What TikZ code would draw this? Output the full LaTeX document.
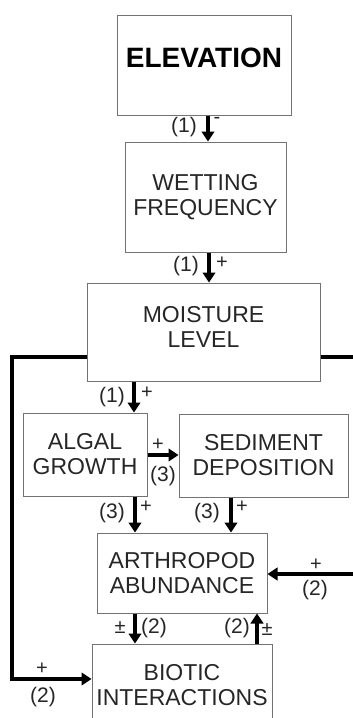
\documentclass[tikz,border=0pt]{standalone}
\usepackage{fontspec}
\setmainfont{Liberation Sans}
\usetikzlibrary{arrows.meta}
\begin{document}
\begin{tikzpicture}[x=1pt,y=-1pt,
  box/.style={draw=black!55, line width=1pt, align=center, inner sep=0pt,
    font=\fontsize{23}{25}\selectfont, text=black!85},
  arr/.style={line width=3.3pt, -{Triangle[width=12.5pt,length=10pt]}},
  wire/.style={line width=3.3pt},
  lab/.style={font=\fontsize{21}{22}\selectfont, inner sep=0pt, text=black!85},
  sgn/.style={font=\fontsize{20}{20}\selectfont, inner sep=0pt, text=black!85}]
\useasboundingbox (0,0) rectangle (353,718);
\clip (0,0) rectangle (353,718);
% boxes
\node[box, minimum width=174pt, minimum height=100pt, font=\fontsize{28}{30}\bfseries, text=black,
  text height=20pt, text depth=16pt] (elev) at (204,65) {ELEVATION};
\node[box, minimum width=161pt, minimum height=110pt] (wet) at (205.5,197) {WETTING\\FREQUENCY};
\node[box, minimum width=233pt, minimum height=98pt, text depth=10pt] (moist) at (203.5,332) {MOISTURE\\LEVEL};
\node[box, minimum width=124pt, minimum height=83pt] (algal) at (85,454.5) {ALGAL\\GROWTH};
\node[box, minimum width=169pt, minimum height=83pt] (sed) at (263.5,455.5) {SEDIMENT\\DEPOSITION};
\node[box, minimum width=170pt, minimum height=80pt] (arth) at (182,573) {ARTHROPOD\\ABUNDANCE};
\node[box, minimum width=180pt, minimum height=116pt, text depth=34pt] (biot) at (182,702) {BIOTIC\\INTERACTIONS};
% arrows
\draw[arr] (elev.south -| 208,0) -- (wet.north -| 208,0);
\draw[arr] (wet.south -| 209,0) -- (moist.north -| 209,0);
\draw[arr] (moist.south -| 134,0) -- (algal.north -| 134,0);
\draw[arr] (algal.east |- 0,455) -- (sed.west |- 0,455);
\draw[arr] (algal.south -| 135,0) -- (arth.north -| 135,0);
\draw[arr] (sed.south -| 231,0) -- (arth.north -| 231,0);
\draw[arr] (arth.south -| 135,0) -- (biot.north -| 135,0);
\draw[arr] (biot.north -| 257,0) -- (arth.south -| 257,0);
\coordinate (rin) at (356,574);
\draw[arr] (rin) -- (arth.east |- rin);
\coordinate (rout) at (356,357);
\draw[wire] (moist.east |- rout) -- (rout);
\coordinate (lc1) at (12,357);
\coordinate (lc2) at (12,679);
\draw[arr] (moist.west |- lc1) -- (lc1) -- (lc2) -- (biot.west |- lc2);
% labels
\node[lab] (l1) at (184,127) {(1)};
\node[sgn] (s1) at (217,120) {-};
\node[lab] (l2) at (186,266) {(1)};
\node[sgn] (s2) at (222,263) {+};
\node[lab] (l3) at (112,397) {(1)};
\node[sgn] (s3) at (147,393) {+};
\node[sgn] (s4) at (158,445) {+};
\node[lab] (l4) at (163,476) {(3)};
\node[lab] (l5) at (112,513) {(3)};
\node[sgn] (s5) at (146,507) {+};
\node[lab] (l6) at (207,513) {(3)};
\node[sgn] (s6) at (242,507) {+};
\node[sgn] (s7) at (316,565) {+};
\node[lab] (l7) at (315,590) {(2)};
\node[sgn] (s8) at (120,628) {±};
\node[lab] (l8) at (154,628) {(2)};
\node[lab] (l9) at (237,628) {(2)};
\node[sgn] (s9) at (267,630) {±};
\node[sgn] (s10) at (42,669) {+};
\node[lab] (l10) at (43,697) {(2)};
\end{tikzpicture}
\end{document}
